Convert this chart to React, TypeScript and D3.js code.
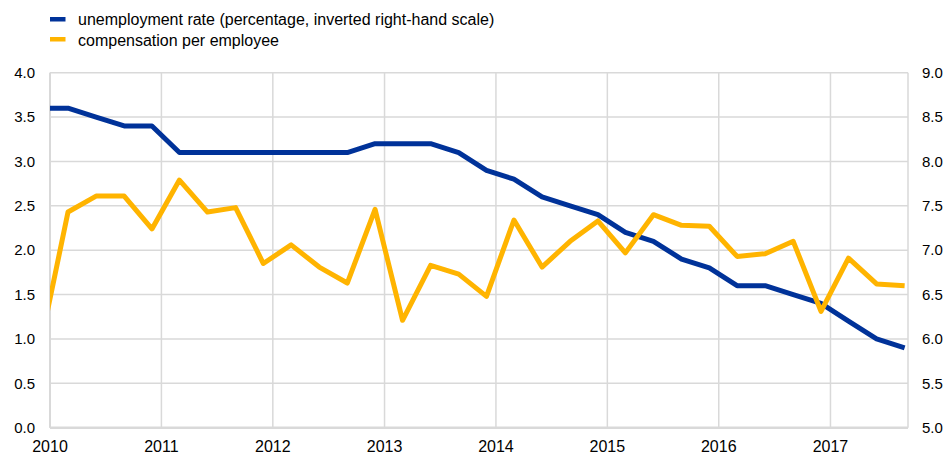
import React, { useEffect, useRef } from 'react';
import * as d3 from 'd3';

// quarterly observations, 2009Q4 is only there so the line enters from the left edge
const quarters = [
  '2009Q4',
  '2010Q1', '2010Q2', '2010Q3', '2010Q4',
  '2011Q1', '2011Q2', '2011Q3', '2011Q4',
  '2012Q1', '2012Q2', '2012Q3', '2012Q4',
  '2013Q1', '2013Q2', '2013Q3', '2013Q4',
  '2014Q1', '2014Q2', '2014Q3', '2014Q4',
  '2015Q1', '2015Q2', '2015Q3', '2015Q4',
  '2016Q1', '2016Q2', '2016Q3', '2016Q4',
  '2017Q1', '2017Q2', '2017Q3',
];

// unemployment rate, right-hand scale
const unemployment = [
  8.6,
  8.6, 8.5, 8.4, 8.4,
  8.1, 8.1, 8.1, 8.1,
  8.1, 8.1, 8.1, 8.2,
  8.2, 8.2, 8.1, 7.9,
  7.8, 7.6, 7.5, 7.4,
  7.2, 7.1, 6.9, 6.8,
  6.6, 6.6, 6.5, 6.4,
  6.2, 6.0, 5.9,
];

// compensation per employee, left-hand scale
const compensation = [
  0.94,
  2.43, 2.61, 2.61, 2.24,
  2.79, 2.43, 2.48, 1.85,
  2.06, 1.81, 1.63, 2.46,
  1.21, 1.83, 1.73, 1.48,
  2.34, 1.81, 2.10, 2.33,
  1.97, 2.40, 2.28, 2.27,
  1.93, 1.96, 2.10, 1.31,
  1.91, 1.62, 1.60,
];

const years = [2010, 2011, 2012, 2013, 2014, 2015, 2016, 2017];
const leftTicks = [0, 0.5, 1, 1.5, 2, 2.5, 3, 3.5, 4];
const rightTicks = [5, 5.5, 6, 6.5, 7, 7.5, 8, 8.5, 9];

const legendItems = [
  { label: 'unemployment rate (percentage, inverted right-hand scale)', color: '#003299' },
  { label: 'compensation per employee', color: '#ffb400' },
];

// quarter observations sit on the first day of the quarter's last month
const quarterDate = (q: string) => new Date(+q.slice(0, 4), (+q.slice(5)) * 3 - 1, 1);

const App: React.FC = () => {
  const svgRef = useRef<SVGSVGElement>(null);

  useEffect(() => {
    if (!svgRef.current) return;
    document.body.style.margin = '0';

    const svg = d3.select(svgRef.current);
    svg.selectAll('*').remove();

    const width = 947;
    const height = 455;
    const left = 50;
    const right = 908;
    const top = 72.7;
    const bottom = 427.7;
    const font = 'Arial, "Liberation Sans", Helvetica, sans-serif';

    svg.attr('width', width).attr('height', height).attr('viewBox', `0 0 ${width} ${height}`);

    const x = d3.scaleTime()
      .domain([new Date(2010, 0, 1), new Date(2017, 8, 12)])
      .range([left, right]);
    const yLeft = d3.scaleLinear().domain([0, 4]).range([bottom, top]);
    const yRight = d3.scaleLinear().domain([5, 9]).range([bottom, top]);

    const grid = svg.append('g').attr('stroke', '#d9d9d9').attr('stroke-width', 1.5);

    // horizontal grid
    grid.selectAll('line.h')
      .data(leftTicks)
      .join('line')
      .attr('class', 'h')
      .attr('x1', left)
      .attr('x2', right)
      .attr('y1', d => yLeft(d))
      .attr('y2', d => yLeft(d));

    // vertical grid at each year + right edge
    grid.selectAll('line.v')
      .data(years)
      .join('line')
      .attr('class', 'v')
      .attr('x1', d => x(new Date(d, 0, 1)))
      .attr('x2', d => x(new Date(d, 0, 1)))
      .attr('y1', top)
      .attr('y2', bottom);
    grid.append('line')
      .attr('x1', right).attr('x2', right)
      .attr('y1', top).attr('y2', bottom);

    // axis base lines
    svg.append('line')
      .attr('x1', left).attr('x2', right)
      .attr('y1', bottom).attr('y2', bottom)
      .attr('stroke', '#d9d9d9').attr('stroke-width', 2.5);
    svg.append('line')
      .attr('x1', left).attr('x2', left)
      .attr('y1', top).attr('y2', bottom)
      .attr('stroke', '#d9d9d9').attr('stroke-width', 2);

    // tick labels
    svg.append('g')
      .selectAll('text')
      .data(leftTicks)
      .join('text')
      .attr('x', 35)
      .attr('y', d => yLeft(d))
      .attr('dy', '0.35em')
      .attr('text-anchor', 'end')
      .attr('font-family', font)
      .attr('font-size', 15)
      .attr('fill', '#000')
      .text(d => d3.format('.1f')(d));

    svg.append('g')
      .selectAll('text')
      .data(rightTicks)
      .join('text')
      .attr('x', 922)
      .attr('y', d => yRight(d))
      .attr('dy', '0.35em')
      .attr('text-anchor', 'start')
      .attr('font-family', font)
      .attr('font-size', 15)
      .attr('fill', '#000')
      .text(d => d3.format('.1f')(d));

    svg.append('g')
      .selectAll('text')
      .data(years)
      .join('text')
      .attr('x', d => x(new Date(d, 0, 1)))
      .attr('y', 451.5)
      .attr('text-anchor', 'middle')
      .attr('font-family', font)
      .attr('font-size', 16)
      .attr('fill', '#000')
      .text(d => String(d));

    // clip lines to plot area
    svg.append('defs')
      .append('clipPath')
      .attr('id', 'plot-clip')
      .append('rect')
      .attr('x', left)
      .attr('y', 0)
      .attr('width', right - left)
      .attr('height', height);

    const dates = quarters.map(quarterDate);

    const unempLine = d3.line<number>()
      .x((_, i) => x(dates[i]))
      .y(d => yRight(d));
    const compLine = d3.line<number>()
      .x((_, i) => x(dates[i]))
      .y(d => yLeft(d));

    const lines = svg.append('g').attr('clip-path', 'url(#plot-clip)');

    lines.append('path')
      .datum(unemployment)
      .attr('d', unempLine)
      .attr('fill', 'none')
      .attr('stroke', legendItems[0].color)
      .attr('stroke-width', 5)
      .attr('stroke-linejoin', 'round');

    lines.append('path')
      .datum(compensation)
      .attr('d', compLine)
      .attr('fill', 'none')
      .attr('stroke', legendItems[1].color)
      .attr('stroke-width', 5)
      .attr('stroke-linejoin', 'round');

    // legend
    const legend = svg.append('g');
    legendItems.forEach((item, i) => {
      legend.append('rect')
        .attr('x', 50)
        .attr('y', 17 + i * 20)
        .attr('width', 15.5)
        .attr('height', 4.5)
        .attr('fill', item.color);
      legend.append('text')
        .attr('x', 78)
        .attr('y', 25 + i * 20.5)
        .attr('font-family', font)
        .attr('font-size', 16)
        .attr('fill', '#000')
        .text(item.label);
    });
  }, []);

  return (
    <div style={{ position: 'absolute', left: 0, top: 0 }}>
      <svg ref={svgRef} style={{ display: 'block' }}></svg>
    </div>
  );
};

export default App;
